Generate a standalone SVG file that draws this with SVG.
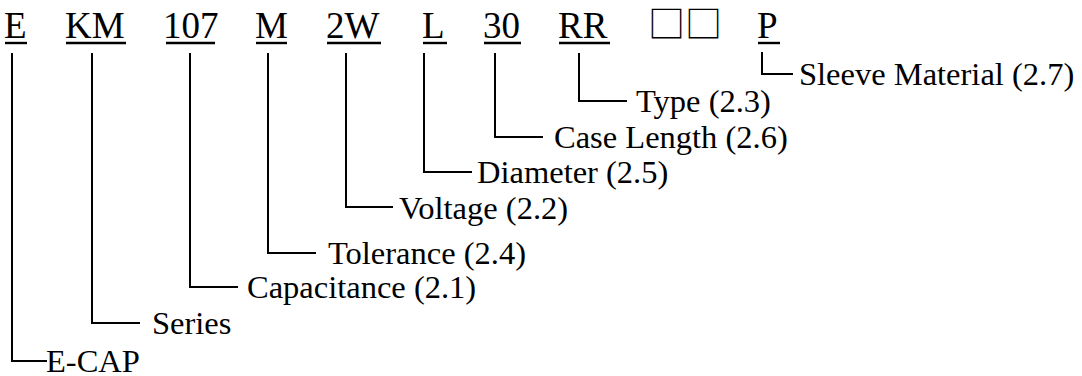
<svg xmlns="http://www.w3.org/2000/svg" width="1082" height="376" viewBox="0 0 1082 376">
<style>
.code{font-family:"Liberation Serif","Times New Roman",serif;font-size:37px;fill:#000}
.box{font-family:"Noto Sans CJK SC","DejaVu Sans",sans-serif;font-size:37px;fill:#000}
.lbl{font-family:"Liberation Serif","Times New Roman",serif;font-size:32.5px;fill:#000}
.ul{stroke:#000;stroke-width:2.4;fill:none}
.con{stroke:#000;stroke-width:2;fill:none}
</style>
<rect width="1082" height="376" fill="#fff"/>
<g id="codes">
<g id="code-E"><text class="code" x="4" y="38">E</text><line class="ul" x1="5" y1="43" x2="27" y2="43"/></g>
<g id="code-KM"><text class="code" x="65" y="38">KM</text><line class="ul" x1="66" y1="43" x2="126" y2="43"/></g>
<g id="code-107"><text class="code" x="163" y="38">107</text><line class="ul" x1="166" y1="43" x2="215" y2="43"/></g>
<g id="code-M"><text class="code" x="255" y="38">M</text><line class="ul" x1="256" y1="43" x2="287" y2="43"/></g>
<g id="code-2W"><text class="code" x="326" y="38">2W</text><line class="ul" x1="327" y1="43" x2="381" y2="43"/></g>
<g id="code-L"><text class="code" x="422" y="38">L</text><line class="ul" x1="423" y1="43" x2="447" y2="43"/></g>
<g id="code-30"><text class="code" x="483" y="38">30</text><line class="ul" x1="484" y1="43" x2="521" y2="43"/></g>
<g id="code-RR"><text class="code" x="558" y="38">RR</text><line class="ul" x1="559" y1="43" x2="610" y2="43"/></g>
<g id="code-boxes"><text class="box" x="648" y="38">□□</text></g>
<g id="code-P"><text class="code" x="757" y="38">P</text><line class="ul" x1="758" y1="43" x2="780" y2="43"/></g>
</g>
<g id="connectors">
<polyline class="con" points="762,52 762,74 793,74"/>
<polyline class="con" points="579,53 579,101 627,101"/>
<polyline class="con" points="495,53 495,137 543,137"/>
<polyline class="con" points="424,53 424,172 472,172"/>
<polyline class="con" points="346,53 346,207 393,207"/>
<polyline class="con" points="268,53 268,253 316,253"/>
<polyline class="con" points="190,53 190,287 238,287"/>
<polyline class="con" points="92,53 92,323 140,323"/>
<polyline class="con" points="12,53 12,361 47,361"/>
</g>
<g id="labels">
<g id="lbl-sleeve"><text class="lbl" x="799" y="85">Sleeve Material (2.7)</text></g>
<g id="lbl-type"><text class="lbl" x="636" y="112">Type (2.3)</text></g>
<g id="lbl-case"><text class="lbl" x="554" y="148">Case Length (2.6)</text></g>
<g id="lbl-diameter"><text class="lbl" x="477" y="183">Diameter (2.5)</text></g>
<g id="lbl-voltage"><text class="lbl" x="399" y="219">Voltage (2.2)</text></g>
<g id="lbl-tolerance"><text class="lbl" x="328" y="264">Tolerance (2.4)</text></g>
<g id="lbl-capacitance"><text class="lbl" x="247" y="298">Capacitance (2.1)</text></g>
<g id="lbl-series"><text class="lbl" x="152" y="334">Series</text></g>
<g id="lbl-ecap"><text class="lbl" x="46" y="372">E-CAP</text></g>
</g>
</svg>
